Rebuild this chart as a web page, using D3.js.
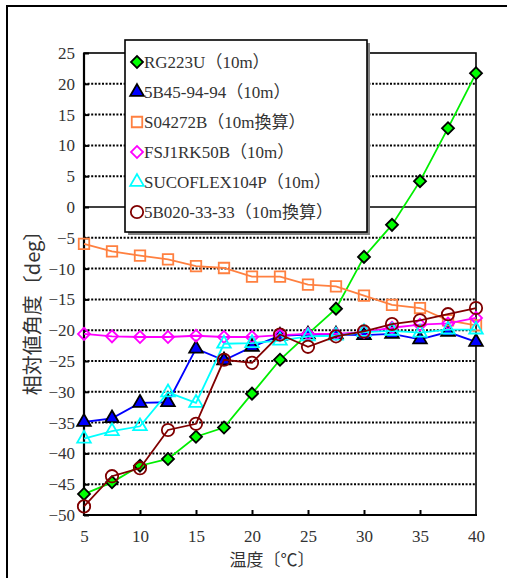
<!DOCTYPE html>
<html><head><meta charset="utf-8">
<script src="https://cdn.jsdelivr.net/npm/d3@7"></script>
<style>
html,body{margin:0;padding:0;background:#fff;}
svg{display:block;}
</style></head>
<body>
<svg id="c" width="507" height="578"></svg>
<script>
const temps = [5,7.5,10,12.5,15,17.5,20,22.5,25,27.5,30,32.5,35,37.5,40];
const rg223u   = [-46.6,-44.7,-42.0,-40.9,-37.3,-35.8,-30.3,-24.8,-20.6,-16.5,-8.1,-2.9,4.2,12.8,21.7];
const b45      = [-34.9,-34.3,-31.8,-31.7,-23.0,-24.9,-22.7,-20.9,-20.7,-20.7,-20.8,-20.6,-21.5,-20.3,-21.9];
const s04272b  = [-6.0,-7.2,-7.9,-8.5,-9.6,-9.9,-11.3,-11.3,-12.6,-12.9,-14.4,-15.9,-16.4,-18.4,-19.2];
const fsj1rk   = [-20.6,-21.0,-21.1,-21.1,-20.9,-21.1,-21.1,-20.8,-20.6,-20.6,-20.3,-19.6,-19.1,-18.9,-18.0];
const sucoflex = [-37.6,-36.4,-35.6,-30.1,-31.8,-22.2,-22.1,-21.7,-21.0,-20.9,-20.3,-20.1,-20.4,-19.9,-19.9];
const b020     = [-48.6,-43.7,-42.4,-36.2,-35.2,-24.8,-25.3,-20.7,-22.7,-21.0,-20.2,-19.0,-18.4,-17.4,-16.4];
const seriesNames = ["RG223U（10m）","5B45-94-94（10m）","S04272B（10m換算）","FSJ1RK50B（10m）","SUCOFLEX104P（10m）","5B020-33-33（10m換算）"];
const xTicks = [5,10,15,20,25,30,35,40];
const yTicks = [-50,-45,-40,-35,-30,-25,-20,-15,-10,-5,0,5,10,15,20,25];
const xTitle = "温度〔℃〕";
const yTitle = "相対値角度〔deg〕";

const styles = [
  {color:"#00ee00", fill:"#00ff00", mstroke:"#000", shape:"diamond"},
  {color:"#0000ff", fill:"#0000ff", mstroke:"#000", shape:"triangle"},
  {color:"#ff8040", fill:"none", mstroke:"#ff8040", shape:"square"},
  {color:"#ff00ff", fill:"none", mstroke:"#ff00ff", shape:"diamond"},
  {color:"#00ffff", fill:"none", mstroke:"#00ffff", shape:"triangle"},
  {color:"#800000", fill:"none", mstroke:"#800000", shape:"circle"}
];
const seriesVals = [rg223u,b45,s04272b,fsj1rk,sucoflex,b020];

const svg = d3.select("#c");
const L=84,R=476,T=53,B=515;
const x = d3.scaleLinear().domain([5,40]).range([L,R]);
const y = d3.scaleLinear().domain([-50,25]).range([B,T]);

// outer frame
svg.append("path").attr("d",`M7,580 L7,6 L510,6`).attr("fill","none").attr("stroke","#000").attr("stroke-width",2);

// grid
svg.append("g").selectAll("line").data(yTicks.filter(v=>v!==-50 && v!==25)).join("line")
  .attr("x1",L).attr("x2",R).attr("y1",d=>y(d)).attr("y2",d=>y(d))
  .attr("stroke","#000")
  .attr("stroke-width",d=>d===0?1.6:2)
  .attr("stroke-dasharray",d=>d===0?null:"2,1.6");

// frame of plot area
svg.append("rect").attr("x",L).attr("y",T).attr("width",R-L).attr("height",B-T)
  .attr("fill","none").attr("stroke","#000").attr("stroke-width",1.6);
svg.append("line").attr("x1",L).attr("x2",L).attr("y1",T).attr("y2",B+1).attr("stroke","#000").attr("stroke-width",2.2);
svg.append("line").attr("x1",L-1).attr("x2",R+1).attr("y1",B).attr("y2",B).attr("stroke","#000").attr("stroke-width",2.2);

// axes
const yAx = svg.append("g").attr("transform",`translate(${L},0)`)
  .call(d3.axisLeft(y).tickValues(yTicks).tickSize(-5).tickPadding(9));
const xAx = svg.append("g").attr("transform",`translate(0,${B})`)
  .call(d3.axisBottom(x).tickValues(xTicks).tickSize(-5).tickPadding(15));
[yAx,xAx].forEach(g=>{
  g.select(".domain").remove();
  g.selectAll("line").attr("stroke","#000").attr("stroke-width",2);
  g.selectAll("text").attr("font-family","'Liberation Serif',serif").attr("font-size",17).attr("fill","#333");
});
xAx.selectAll(".tick").filter(d=>d===5||d===40).select("line").remove();

// titles
svg.append("text").attr("x",272).attr("y",566).attr("text-anchor","middle")
  .attr("font-family","'Noto Sans CJK JP',sans-serif").attr("font-size",17).attr("fill","#333").text(xTitle);
svg.append("text").attr("transform","translate(40,308) rotate(-90)").attr("text-anchor","middle")
  .attr("font-family","'Noto Sans CJK JP',sans-serif").attr("font-size",20).attr("fill","#333").text(yTitle);

function sym(shape){
  if(shape==="diamond") return {path:d3.symbol(d3.symbolSquare,72)(), rot:45};
  if(shape==="triangle") return {path:d3.symbol(d3.symbolTriangle,80)(), rot:0};
  if(shape==="square") return {path:d3.symbol(d3.symbolSquare,110)(), rot:0};
  return {path:d3.symbol(d3.symbolCircle,120)(), rot:0};
}
const line = d3.line().x((d,i)=>x(temps[i])).y(d=>y(d));

seriesVals.forEach((vals,k)=>{
  const st = styles[k];
  const g = svg.append("g");
  g.append("path").attr("d",line(vals)).attr("fill","none").attr("stroke",st.color).attr("stroke-width",1.8);
  const s = sym(st.shape);
  g.selectAll("path.m").data(vals).join("path").attr("class","m")
    .attr("d",s.path)
    .attr("transform",(d,i)=>`translate(${x(temps[i])},${y(d)}) rotate(${s.rot})`)
    .attr("fill",st.fill).attr("stroke",st.mstroke).attr("stroke-width",1.8);
});

// legend
const lg = svg.append("g");
lg.append("rect").attr("x",128).attr("y",43).attr("width",242).attr("height",192).attr("fill","#808080");
lg.append("rect").attr("x",125).attr("y",40).attr("width",242).attr("height",192).attr("fill","#fff").attr("stroke","#000").attr("stroke-width",1.6);
seriesNames.forEach((nm,k)=>{
  const st = styles[k];
  const cy = 62 + k*30;
  const s = sym(st.shape);
  lg.append("path").attr("d",s.path).attr("transform",`translate(137,${cy}) rotate(${s.rot})`)
    .attr("fill",st.fill).attr("stroke",st.mstroke).attr("stroke-width",1.8);
  lg.append("text").attr("x",144).attr("y",cy+6)
    .attr("font-family","'Liberation Serif','Noto Sans CJK JP',serif").attr("font-size",17).attr("fill","#333").text(nm);
});
</script>
</body></html>
